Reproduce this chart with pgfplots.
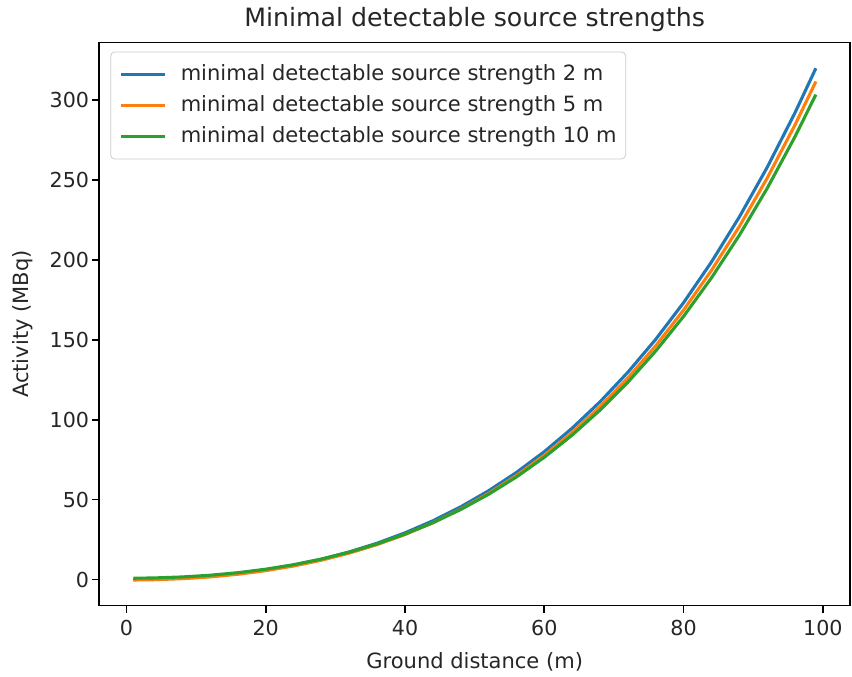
\documentclass[border=0pt]{standalone}
\usepackage{pgfplots}
\pgfplotsset{compat=1.18}
\usepackage{fontspec}
\setmainfont{DejaVu Sans}
\definecolor{C0}{HTML}{1F77B4}
\definecolor{C1}{HTML}{FF7F0E}
\definecolor{C2}{HTML}{2CA02C}
\begin{document}
\begin{tikzpicture}
\begin{axis}[
  width=375pt, height=281.2pt, scale only axis,
  xmin=-3.9, xmax=103.9, ymin=-16.3, ymax=336,
  xtick={0,20,...,100}, ytick={0,50,...,300},
  tick align=outside, xtick pos=bottom, ytick pos=left,
  major tick length=3.6pt,
  every tick/.style={line width=0.8pt, black},
  axis line style={line width=0.8pt},
  /pgf/number format/assume math mode=true,
  tick label style={font=\fontsize{10.3}{12.5}\selectfont, text=black!85},
  yticklabel style={xshift=2pt},
  label style={font=\fontsize{10.5}{12.5}\selectfont, text=black!85},
  ylabel shift=1.5pt,
  xlabel style={yshift=-1.5pt},
  xlabel={Ground distance (m)},
  ylabel={Activity (MBq)},
  title={Minimal detectable source strengths},
  title style={font=\fontsize{12.6}{15}\selectfont, text=black!85, yshift=-4pt},
  legend cell align=left,
  legend style={at={(0,1)}, anchor=north west, xshift=5.5pt, yshift=-4.5pt,
    draw=black!20, rounded corners=2pt, fill=white, fill opacity=0.8, text opacity=1,
    font=\fontsize{10.5}{12.5}\selectfont, text=black!85, row sep=3.5pt, inner xsep=4.5pt, inner ysep=5.2pt,
    nodes={inner xsep=0pt, inner ysep=0pt, text height=9pt, text depth=3pt},
    /tikz/every odd column/.style={column sep=7pt}},
  legend image code/.code={\draw[#1, line width=1.5pt] (0pt,0pt) -- (22pt,0pt);},
]
\addplot[C0, line width=1.55pt] coordinates {
(1,0.01)(4,0.20)(8,0.85)(12,1.99)(16,3.69)(20,5.99)(24,8.98)(28,12.71)(32,17.27)(36,22.73)(40,29.20)(44,36.75)(48,45.49)(52,55.54)(56,67.00)(60,80.01)(64,94.69)(68,111.20)(72,129.68)(76,150.31)(80,173.24)(84,198.69)(88,226.83)(92,257.89)(96,292.10)(99,319.97)};
\addlegendentry{minimal detectable source strength 2 m}
\addplot[C1, line width=1.55pt] coordinates {
(1,-0.29)(4,-0.10)(8,0.53)(12,1.64)(16,3.30)(20,5.54)(24,8.45)(28,12.09)(32,16.54)(36,21.87)(40,28.17)(44,35.53)(48,44.05)(52,53.85)(56,65.03)(60,77.71)(64,92.02)(68,108.12)(72,126.14)(76,146.25)(80,168.61)(84,193.42)(88,220.86)(92,251.14)(96,284.50)(99,311.67)};
\addlegendentry{minimal detectable source strength 5 m}
\addplot[C2, line width=1.55pt] coordinates {
(1,0.81)(4,0.99)(8,1.61)(12,2.69)(16,4.29)(20,6.47)(24,9.29)(28,12.82)(32,17.14)(36,22.31)(40,28.42)(44,35.56)(48,43.83)(52,53.34)(56,64.18)(60,76.49)(64,90.38)(68,106.00)(72,123.48)(76,143.00)(80,164.69)(84,188.76)(88,215.38)(92,244.77)(96,277.13)(99,303.49)};
\addlegendentry{minimal detectable source strength 10 m}
\end{axis}
\pgfresetboundingbox
\path ([shift={(-49.6pt,-35.4pt)}]current axis.south west) rectangle ([shift={(1pt,21.3pt)}]current axis.north east);
\end{tikzpicture}
\end{document}
